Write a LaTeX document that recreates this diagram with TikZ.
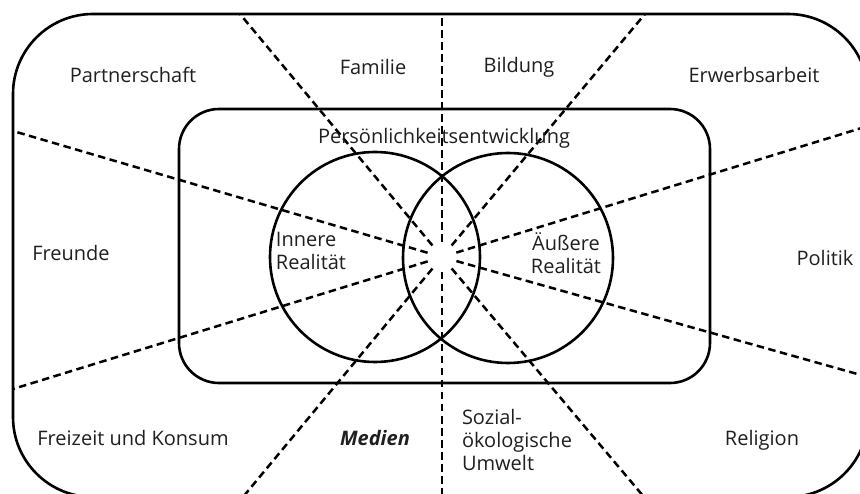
\documentclass[tikz,border=0pt]{standalone}
\usepackage{fontspec}
\setmainfont{Open Sans}
\usetikzlibrary{calc}
\begin{document}
\begin{tikzpicture}[x=1pt,y=-1pt,
  frame/.style={draw=black,line width=2.6pt},
  ray/.style={draw=black,line width=2.5pt,dash pattern=on 7.5pt off 4.5pt},
  lbl/.style={font=\fontsize{20}{23}\selectfont,text=black!88,inner sep=0pt},
  lbll/.style={lbl,align=left},
  lblc/.style={lbl,align=center}]
  \useasboundingbox (0,0) rectangle (860,494);
  \clip (0,0) rectangle (860,494);

  % centre of the star of dashed rays
  \coordinate (c) at (442,257);
  % outer ends of the rays
  \coordinate (up) at (442,14);
  \coordinate (dn) at (442,497);
  \coordinate (ul) at (240,14);
  \coordinate (ur) at (645,14);
  \coordinate (lu) at (13,131);
  \coordinate (ru) at (868,126);
  \coordinate (ll) at (13,389);
  \coordinate (rl) at (868,377);
  \coordinate (dl) at (243,497);
  \coordinate (dr) at (644,497);

  \foreach \e in {up,dn,ul,ur,lu,ru,ll,rl,dl,dr}
    \draw[ray] ($(c)!15pt!(\e)$) -- (\e);

  % outer frame and inner frame
  \draw[frame,rounded corners=80pt] (13,14) rectangle (868,497);
  \draw[frame,rounded corners=40pt] (179,109) rectangle (710,383);

  % the two overlapping circles
  \draw[frame] (375,257) circle[radius=105];
  \draw[frame] (508,258) circle[radius=105];

  % labels
  \node[lbl]  (partner) at (133,75) {Partnerschaft};
  \node[lbl]  (familie) at (373,67) {Familie};
  \node[lbl]  (bildung) at (519,67) {Bildung};
  \node[lbl]  (erwerb)  at (754,75) {Erwerbsarbeit};
  \node[lbl]  (person)  at (444,138) {Persönlichkeitsentwicklung};
  \node[lbl]  (freunde) at (71,253) {Freunde};
  \node[lbl]  (politik) at (825,258) {Politik};
  \node[lbll] (innere)  at (311,251) {Innere\\Realität};
  \node[lblc] (aeussere) at (566,253) {Äußere\\Realität};
  \node[lbl]  (freizeit) at (133,438) {Freizeit und Konsum};
  \node[lbl,font=\fontsize{20}{23}\selectfont\bfseries\itshape] (medien) at (375,438) {Medien};
  \node[lbll] (sozial)  at (517,440) {Sozial-\\ökologische\\Umwelt};
  \node[lbl]  (religion) at (762,440) {Religion};
\end{tikzpicture}
\end{document}
